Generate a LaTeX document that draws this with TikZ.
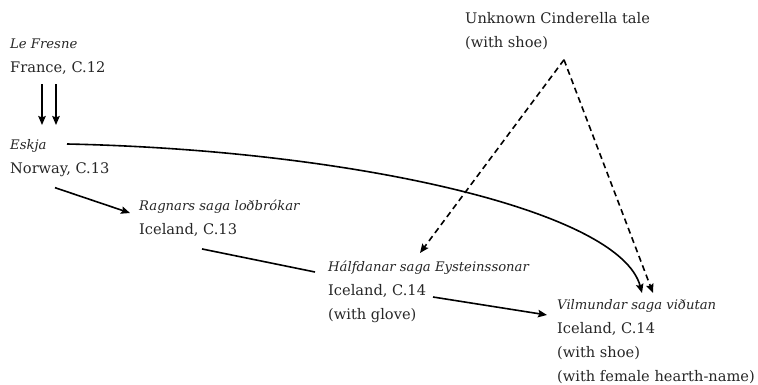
\documentclass[tikz,border=0pt]{standalone}
\usepackage{fontspec}
\setmainfont{DejaVu Serif}
\usetikzlibrary{arrows.meta}
\newcommand{\sagatitle}[1]{{\fontsize{13.2}{24}\selectfont\itshape #1}}

\begin{document}
\begin{tikzpicture}[x=1pt,y=-1pt,
    tale/.style={anchor=north west, inner sep=0pt, align=left,
      font=\fontsize{14.6}{24}\selectfont, text=black!85},
    link/.style={line width=1.6pt, -{Stealth[length=9pt,width=7.5pt,inset=1.5pt]}},
    guess/.style={link, dash pattern=on 6pt off 4pt}]
  \useasboundingbox (0,0) rectangle (758,385);

  \node[tale] (fresne) at (10,39) {\sagatitle{Le Fresne}\\France, C.12};
  \node[tale] (eskja) at (10,139) {\sagatitle{Eskja}\\Norway, C.13};
  \node[tale] (ragnars) at (139,200) {\sagatitle{Ragnars saga loðbrókar}\\Iceland, C.13};
  \node[tale] (halfdan) at (328,261) {\sagatitle{Hálfdanar saga Eysteinssonar}\\Iceland, C.14\\(with glove)};
  \node[tale] (vilmund) at (557,299) {\sagatitle{Vilmundar saga viðutan}\\Iceland, C.14\\(with shoe)\\(with female hearth-name)};
  \node[tale] (cinder) at (465,12) {Unknown Cinderella tale\\(with shoe)};

  \foreach \x in {32,46}
    \draw[link] ([shift={(\x,9)}]fresne.south west) -- ([shift={(\x,-14)}]eskja.north west);
  \draw[link] ([shift={(57,5)}]eskja.north west) .. controls +(283,6) and +(-22,-83) .. ([shift={(85,-6)}]vilmund.north west);
  \draw[link] ([shift={(45,11)}]eskja.south west) -- ([shift={(-9,13)}]ragnars.north west);
  \draw[line width=1.6pt] ([shift={(63,12)}]ragnars.south west) -- ([shift={(-13,11)}]halfdan.north west);
  \draw[link] ([shift={(105,36)}]halfdan.north west) -- ([shift={(-10,16)}]vilmund.north west);
  \coordinate (apex) at ([shift={(99,10)}]cinder.south west);
  \draw[guess] (apex) -- ([shift={(92,-8)}]halfdan.north west);
  \draw[guess] (apex) -- ([shift={(96,-6)}]vilmund.north west);
\end{tikzpicture}
\end{document}
